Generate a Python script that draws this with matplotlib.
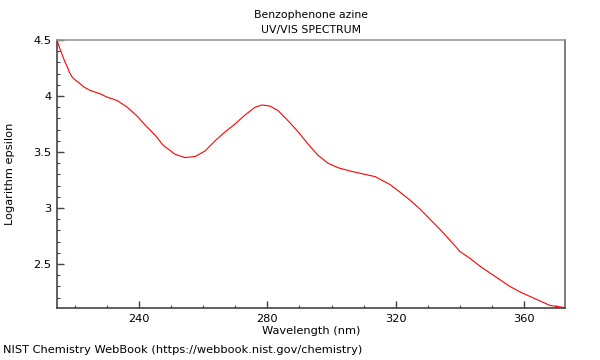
import matplotlib
matplotlib.use("Agg")
import matplotlib.pyplot as plt
from matplotlib.ticker import MultipleLocator

wavelength = [214.4, 215.2, 216.0, 216.8, 217.6, 218.3, 219.1, 220.2, 221.6, 222.8,
              224.7, 227.8, 230.0, 233.1, 236.3,
              239.4, 241.9, 245.0, 247.5, 251.2, 254.3, 257.5, 260.6, 263.7, 266.8,
              269.9, 273.0, 276.2, 278.3, 280.8, 283.3, 286.4, 289.6, 292.7, 295.8,
              298.9, 302.0, 305.8, 308.9, 313.6, 318.2, 321.4, 324.5, 327.6, 330.7,
              333.8, 337.0, 340.1, 343.2, 346.3, 349.4, 352.5, 355.6, 358.8, 361.9,
              365.0, 368.1, 372.8]
log_eps = [4.50, 4.43, 4.37, 4.31, 4.26, 4.21, 4.17, 4.14, 4.11, 4.08,
           4.05, 4.02, 3.99, 3.96, 3.90,
           3.82, 3.74, 3.65, 3.56, 3.48, 3.45, 3.46, 3.51, 3.60, 3.68,
           3.75, 3.83, 3.90, 3.92, 3.91, 3.87, 3.78, 3.68, 3.57, 3.47,
           3.40, 3.36, 3.33, 3.31, 3.28, 3.21, 3.14, 3.07, 2.99, 2.90,
           2.81, 2.71, 2.61, 2.55, 2.48, 2.42, 2.36, 2.30, 2.25, 2.21,
           2.17, 2.13, 2.11]
xticks = [240, 280, 320, 360]
yticks = [2.5, 3, 3.5, 4, 4.5]
ytick_labels = ["2.5", "3", "3.5", "4", "4.5"]

fig = plt.figure(figsize=(6, 3.6), dpi=100)
ax = fig.add_axes([0.095, 0.1444, 0.8467, 0.7445])
ax.plot(wavelength, log_eps, color="red", lw=0.8)

ax.set_xlim(214.4, 372.8)
ax.set_ylim(2.107, 4.5)
ax.set_xticks(xticks)
ax.set_yticks(yticks)
ax.set_yticklabels(ytick_labels)
ax.xaxis.set_minor_locator(MultipleLocator(10))
ax.yaxis.set_minor_locator(MultipleLocator(0.1))
ax.tick_params(which="major", direction="in", length=5, width=1, color="#444", labelsize=8.2, pad=4)
ax.tick_params(which="minor", direction="in", length=2.5, width=0.8, color="#444")

ax.spines["left"].set_color("#444")
ax.spines["bottom"].set_color("#444")
ax.spines["top"].set_color("#999")
ax.spines["right"].set_color("#666")
for s in ax.spines.values():
    s.set_linewidth(1.2)

ax.set_xlabel("Wavelength (nm)", fontsize=8.2, labelpad=2)
ax.set_ylabel("Logarithm epsilon", fontsize=8.2, labelpad=13)
ax.set_title("Benzophenone azine\nUV/VIS SPECTRUM", fontsize=7.8, pad=5, linespacing=1.6)
fig.text(0.005, 0.02, "NIST Chemistry WebBook (https://webbook.nist.gov/chemistry)", fontsize=8.2)

fig.savefig("out.png", dpi=100)
